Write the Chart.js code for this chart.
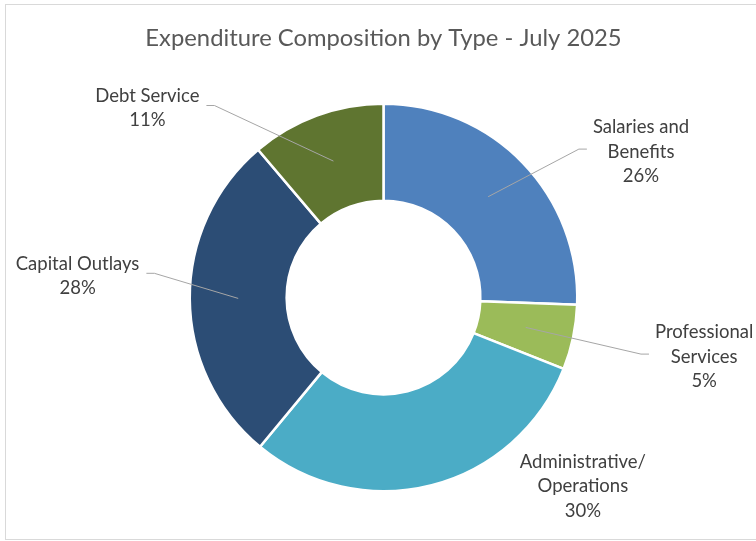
<!DOCTYPE html>
<html>
<head>
<meta charset="utf-8">
<script src="https://cdn.jsdelivr.net/npm/chart.js@4/dist/chart.umd.min.js"></script>
<style>
  html, body { margin: 0; padding: 0; background: #ffffff; }
  #wrap { width: 756px; height: 541px; position: relative; }
</style>
</head>
<body>
<div id="wrap"><canvas id="c" width="756" height="541"></canvas></div>
<script>
// ---- data ----
const chartTitle = 'Expenditure Composition by Type - July 2025';
const categories = [
  ['Salaries and', 'Benefits'],
  ['Professional', 'Services'],
  ['Administrative/', 'Operations'],
  ['Capital Outlays'],
  ['Debt Service']
];
const values = [25.6, 5.4, 30.0, 27.8, 11.2];
const sliceColors = ['#4F81BD', '#9BBB59', '#4BACC6', '#2C4D75', '#5F7530'];

// ---- label layout (relative to ring centre, in units of outer radius) ----
const labelLayout = [
  { fx: 1.329, fy: -0.753, leader: true },
  { fx: 1.655, fy: 0.305, leader: true },
  { fx: 1.029, fy: 0.974, leader: false },
  { fx: -1.579, fy: -0.112, leader: true },
  { fx: -1.219, fy: -0.978, leader: true }
];

const FONT = 'Lato, "Liberation Sans", sans-serif';
const LABEL_SIZE = 18.5;
const LINE_H = 24.5;

const frame = {
  id: 'frame',
  beforeDraw(chart) {
    const ctx = chart.ctx;
    ctx.save();
    ctx.fillStyle = '#ffffff';
    ctx.fillRect(0, 0, chart.width, chart.height);
    ctx.strokeStyle = '#D9D9D9';
    ctx.lineWidth = 1;
    ctx.strokeRect(5.5, 4.5, 800, 535);
    ctx.restore();
  }
};

const outsideLabels = {
  id: 'outsideLabels',
  afterDatasetsDraw(chart) {
    const ctx = chart.ctx;
    const meta = chart.getDatasetMeta(0);
    const data = chart.data.datasets[0].data;
    const total = data.reduce((a, b) => a + b, 0);
    ctx.save();
    ctx.font = LABEL_SIZE + 'px ' + FONT;
    meta.data.forEach((arc, i) => {
      const R = arc.outerRadius;
      const lay = labelLayout[i];
      const cx = arc.x + lay.fx * R;
      const cy = arc.y + lay.fy * R;
      const lines = [].concat(chart.data.labels[i], Math.round(data[i] / total * 100) + '%');
      const maxW = Math.max(...lines.map(t => ctx.measureText(t).width));
      const pt = arc.getCenterPoint();
      if (lay.leader) {
        const right = cx < pt.x;
        const sx = right ? cx + maxW / 2 + 7 : cx - maxW / 2 - 6;
        const hx = right ? sx + 8 : sx - 8;
        const ly = cy - 2.5;
        ctx.beginPath();
        ctx.moveTo(sx, ly);
        ctx.lineTo(hx, ly);
        ctx.lineTo(pt.x, pt.y);
        ctx.strokeStyle = '#A6A6A6';
        ctx.lineWidth = 1;
        ctx.stroke();
      }
      ctx.fillStyle = '#404040';
      ctx.textAlign = 'center';
      ctx.textBaseline = 'middle';
      lines.forEach((t, k) => {
        ctx.fillText(t, cx, cy + (k - (lines.length - 1) / 2) * LINE_H);
      });
    });
    ctx.restore();
  }
};

new Chart(document.getElementById('c'), {
  type: 'doughnut',
  data: {
    labels: categories,
    datasets: [{
      data: values,
      backgroundColor: sliceColors,
      borderColor: '#ffffff',
      borderWidth: 2.5,
      hoverOffset: 0,
      hoverBorderWidth: 2.5
    }]
  },
  options: {
    responsive: false,
    animation: false,
    events: [],
    cutout: '50%',
    layout: { padding: { left: 11, right: 0, top: 0, bottom: 48.5 } },
    plugins: {
      legend: { display: false },
      tooltip: { enabled: false },
      title: {
        display: true,
        text: chartTitle,
        color: '#595959',
        font: { family: FONT, size: 23.8, weight: 'normal', lineHeight: 1.2 },
        padding: { top: 23.7, bottom: 50.24 }
      }
    }
  },
  plugins: [frame, outsideLabels]
});
</script>
</body>
</html>
